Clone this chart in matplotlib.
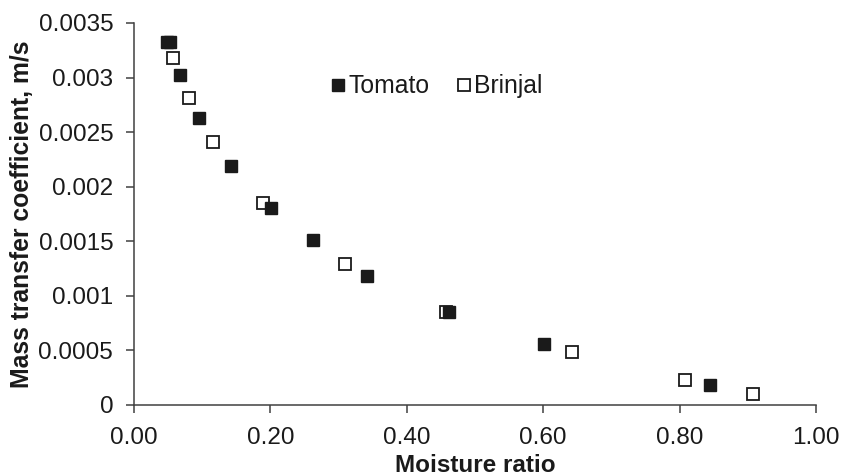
#!/usr/bin/env python3
"""Mass transfer coefficient vs moisture ratio for tomato and brinjal."""

import matplotlib.pyplot as plt

plt.rcParams["font.family"] = ["Liberation Sans", "DejaVu Sans"]

# measured points
tomato_mr = [0.048, 0.053, 0.068, 0.095, 0.142, 0.201, 0.262, 0.342, 0.462, 0.601, 0.844]
tomato_k = [0.00333, 0.00333, 0.00302, 0.00263, 0.00219, 0.00180, 0.00151, 0.00118,
            0.00085, 0.00056, 0.00018]

brinjal_mr = [0.057, 0.080, 0.116, 0.189, 0.309, 0.458, 0.642, 0.808, 0.908]
brinjal_k = [0.00318, 0.00281, 0.00241, 0.00185, 0.00129, 0.00085, 0.00048, 0.00023, 0.00010]

x_ticks = [0.0, 0.2, 0.4, 0.6, 0.8, 1.0]
x_ticklabels = ["0.00", "0.20", "0.40", "0.60", "0.80", "1.00"]
y_ticks = [0, 0.0005, 0.001, 0.0015, 0.002, 0.0025, 0.003, 0.0035]
y_ticklabels = ["0", "0.0005", "0.001", "0.0015", "0.002", "0.0025", "0.003", "0.0035"]

AXIS_COLOR = "#404040"
TEXT_COLOR = "#1a1a1a"


def main():
    fig = plt.figure(figsize=(8.41, 4.76), dpi=100)
    ax = fig.add_axes([0.1593, 0.150, 0.811, 0.8017])

    # brinjal first so filled tomato squares sit on top where they overlap
    h_b, = ax.plot(brinjal_mr, brinjal_k, ls="none", marker="s", ms=9.3,
                   mfc="white", mec="#1a1a1a", mew=1.3, label="Brinjal")
    h_t, = ax.plot(tomato_mr, tomato_k, ls="none", marker="s", ms=9.3,
                   mfc="#1a1a1a", mec="#1a1a1a", mew=1.0, label="Tomato")

    ax.set_xlim(0, 1.0)
    ax.set_ylim(0, 0.0035)
    ax.set_xticks(x_ticks)
    ax.set_xticklabels(x_ticklabels)
    ax.set_yticks(y_ticks)
    ax.set_yticklabels(y_ticklabels)

    for side in ("top", "right"):
        ax.spines[side].set_visible(False)
    for side in ("left", "bottom"):
        ax.spines[side].set_color(AXIS_COLOR)
        ax.spines[side].set_linewidth(1.1)
    ax.tick_params(direction="out", length=6, width=1.1, color=AXIS_COLOR,
                   labelsize=17.5, labelcolor=TEXT_COLOR)
    ax.tick_params(axis="x", pad=10)
    ax.tick_params(axis="y", pad=9)

    ax.set_xlabel("Moisture ratio", fontsize=17.5, fontweight="bold",
                  color=TEXT_COLOR, labelpad=4)
    ax.set_ylabel("Mass transfer coefficient, m/s", fontsize=17.8,
                  fontweight="bold", color=TEXT_COLOR, labelpad=3)

    leg = ax.legend([h_t, h_b], ["Tomato", "Brinjal"], ncol=2, frameon=False,
                    fontsize=17.8, handlelength=0.6, handletextpad=0.12,
                    columnspacing=1.08, borderpad=0, borderaxespad=0,
                    loc="center left", bbox_to_anchor=(0.3935, 0.819),
                    bbox_transform=fig.transFigure)
    for txt in leg.get_texts():
        txt.set_color(TEXT_COLOR)

    fig.savefig("out.png", dpi=100)
    plt.close(fig)


if __name__ == "__main__":
    main()
